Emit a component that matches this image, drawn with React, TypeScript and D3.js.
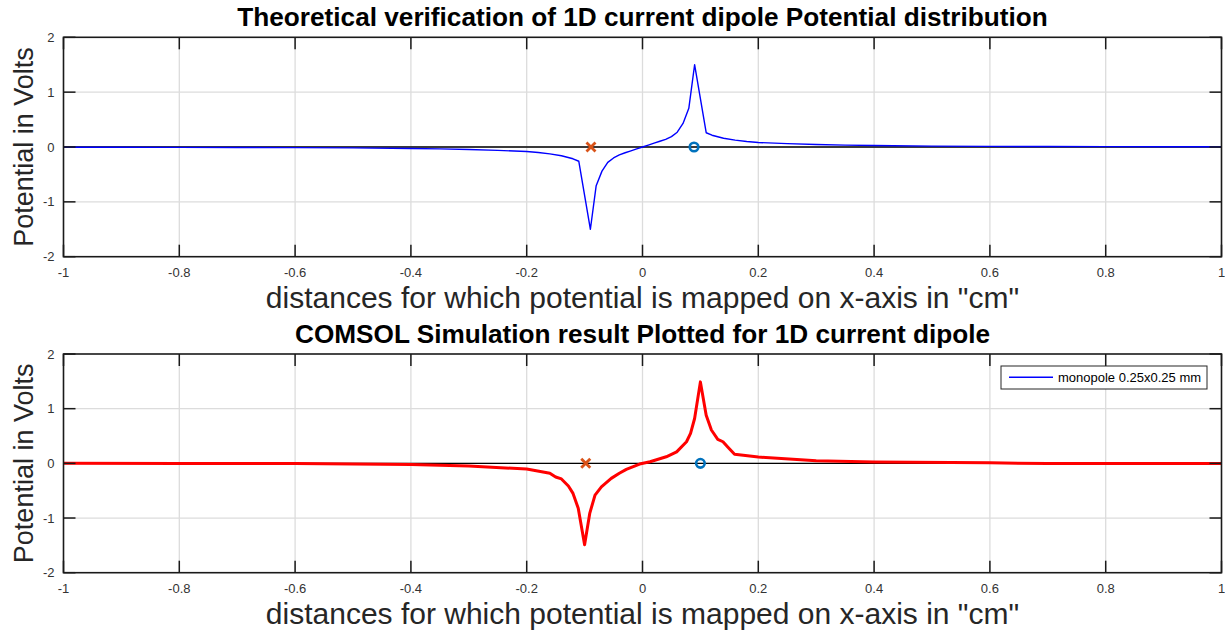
import React from 'react';
import * as d3 from 'd3';

// x positions in cm, potential in volts
const theoryX = [
  -1, -0.9, -0.8, -0.7, -0.6, -0.5, -0.4, -0.35, -0.3, -0.25, -0.2, -0.18, -0.16, -0.14, -0.12, -0.11,
  -0.09, -0.08, -0.07, -0.06, -0.05, -0.04, -0.03, -0.02, -0.01, 0, 0.01, 0.02, 0.03, 0.04, 0.05, 0.06,
  0.07, 0.08, 0.09, 0.11, 0.12, 0.14, 0.16, 0.18, 0.2, 0.25, 0.3, 0.35, 0.4, 0.5, 0.6, 0.7, 0.8, 0.9, 1,
];
const theoryY = [
  -0.004, -0.005, -0.006, -0.008, -0.011, -0.016, -0.026, -0.034, -0.046, -0.062, -0.082, -0.1, -0.125,
  -0.16, -0.215, -0.26, -1.5, -0.705, -0.44, -0.28, -0.2, -0.145, -0.105, -0.07, -0.035, 0, 0.035, 0.07,
  0.105, 0.14, 0.19, 0.27, 0.43, 0.705, 1.5, 0.26, 0.215, 0.16, 0.125, 0.1, 0.082, 0.062, 0.046, 0.034,
  0.026, 0.016, 0.011, 0.008, 0.006, 0.005, 0.004,
];

const comsolX = [
  -1, -0.8, -0.6, -0.5, -0.4, -0.3, -0.2, -0.16, -0.15, -0.14, -0.128, -0.12, -0.111, -0.1, -0.091,
  -0.082, -0.071, -0.054, -0.04, -0.028, -0.005, 0.013, 0.041, 0.059, 0.076, 0.083, 0.09, 0.1, 0.11,
  0.119, 0.13, 0.139, 0.148, 0.159, 0.2, 0.3, 0.4, 0.6, 0.7, 1,
];
const comsolY = [
  0, -0.002, -0.005, -0.01, -0.02, -0.05, -0.104, -0.18, -0.25, -0.285, -0.415, -0.55, -0.82, -1.49,
  -0.91, -0.58, -0.43, -0.275, -0.18, -0.11, -0.013, 0.03, 0.12, 0.21, 0.395, 0.55, 0.82, 1.49, 0.88,
  0.61, 0.44, 0.395, 0.29, 0.165, 0.115, 0.047, 0.024, 0.01, -0.005, -0.005,
];

// charge positions (sink "x", source "o")
const theorySink = -0.089;
const theorySource = 0.089;
const comsolSink = -0.098;
const comsolSource = 0.1;

const xTicks = [-1, -0.8, -0.6, -0.4, -0.2, 0, 0.2, 0.4, 0.6, 0.8, 1];
const xTickLabels = ['-1', '-0.8', '-0.6', '-0.4', '-0.2', '0', '0.2', '0.4', '0.6', '0.8', '1'];
const yTicks = [-2, -1, 0, 1, 2];
const yTickLabels = ['-2', '-1', '0', '1', '2'];

const FONT = '"Liberation Sans", Arial, Helvetica, sans-serif';
const W = 1225;
const H = 634;
const LEFT = 63.5;
const RIGHT = 1221.5;
const TICK = 12;

interface PanelProps {
  top: number;
  bottom: number;
  title: string;
  xs: number[];
  ys: number[];
  color: string;
  lineWidth: number;
  sink: number;
  source: number;
  legend?: string;
}

const Panel: React.FC<PanelProps> = ({ top, bottom, title, xs, ys, color, lineWidth, sink, source, legend }) => {
  const x = d3.scaleLinear().domain([-1, 1]).range([LEFT, RIGHT]);
  const y = d3.scaleLinear().domain([-2, 2]).range([bottom, top]);
  const line = d3
    .line<number>()
    .x((_, i) => x(xs[i]))
    .y((d) => y(d));
  const path = line(ys) || '';
  const midY = (top + bottom) / 2;

  return (
    <g>
      {/* grid */}
      {xTicks.slice(1, -1).map((t) => (
        <line key={'gx' + t} x1={x(t)} x2={x(t)} y1={top} y2={bottom} stroke="#dcdcdc" strokeWidth={1.3} />
      ))}
      {yTicks.slice(1, -1).map((t) => (
        <line key={'gy' + t} x1={LEFT} x2={RIGHT} y1={y(t)} y2={y(t)} stroke="#dcdcdc" strokeWidth={1.3} />
      ))}

      {/* zero line */}
      <line x1={x(-1)} x2={x(1)} y1={y(0)} y2={y(0)} stroke="#000" strokeWidth={1.3} />

      {/* data */}
      <path d={path} fill="none" stroke={color} strokeWidth={lineWidth} strokeLinejoin="round" />

      {/* markers */}
      <g stroke="#D95319" strokeWidth={2.8}>
        <line x1={x(sink) - 4.5} x2={x(sink) + 4.5} y1={y(0) - 4.5} y2={y(0) + 4.5} />
        <line x1={x(sink) - 4.5} x2={x(sink) + 4.5} y1={y(0) + 4.5} y2={y(0) - 4.5} />
      </g>
      <circle cx={x(source)} cy={y(0)} r={4.3} fill="none" stroke="#0072BD" strokeWidth={2.6} />

      {/* ticks */}
      {xTicks.map((t) => (
        <g key={'tx' + t}>
          <line x1={x(t)} x2={x(t)} y1={bottom} y2={bottom - TICK} stroke="#1a1a1a" strokeWidth={1.5} />
          <line x1={x(t)} x2={x(t)} y1={top} y2={top + TICK} stroke="#1a1a1a" strokeWidth={1.5} />
        </g>
      ))}
      {yTicks.map((t) => (
        <g key={'ty' + t}>
          <line x1={LEFT} x2={LEFT + TICK} y1={y(t)} y2={y(t)} stroke="#1a1a1a" strokeWidth={1.5} />
          <line x1={RIGHT} x2={RIGHT - TICK} y1={y(t)} y2={y(t)} stroke="#1a1a1a" strokeWidth={1.5} />
        </g>
      ))}
      <rect x={LEFT} y={top} width={RIGHT - LEFT} height={bottom - top} fill="none" stroke="#1a1a1a" strokeWidth={1.6} />

      {/* tick labels */}
      {xTicks.map((t, i) => (
        <text key={'lx' + t} x={x(t)} y={bottom + 20} textAnchor="middle" fontSize={13} fill="#333" fontFamily={FONT}>
          {xTickLabels[i]}
        </text>
      ))}
      {yTicks.map((t, i) => (
        <text key={'ly' + t} x={LEFT - 9} y={y(t) + 4.5} textAnchor="end" fontSize={13} fill="#333" fontFamily={FONT}>
          {yTickLabels[i]}
        </text>
      ))}

      {/* axis labels and title */}
      <text x={(LEFT + RIGHT) / 2} y={top - 11} textAnchor="middle" fontSize={26.2} fontWeight="bold" fill="#000" fontFamily={FONT}>
        {title}
      </text>
      <text x={(LEFT + RIGHT) / 2} y={bottom + 51} textAnchor="middle" fontSize={30} fill="#262626" fontFamily={FONT}>
        distances for which potential is mapped on x-axis in "cm"
      </text>
      <text
        transform={`translate(33,${midY}) rotate(-90)`}
        textAnchor="middle"
        fontSize={27}
        fill="#262626"
        fontFamily={FONT}
      >
        Potential in Volts
      </text>

      {legend && (
        <g>
          <rect x={1001} y={top + 12} width={206} height={23} fill="#fff" stroke="#262626" strokeWidth={1} />
          <line x1={1009} x2={1053} y1={top + 23.3} y2={top + 23.3} stroke="#0000FF" strokeWidth={1.5} />
          <text x={1058} y={top + 28} fontSize={13} fill="#000" fontFamily={FONT}>
            {legend}
          </text>
        </g>
      )}
    </g>
  );
};

export default function App() {
  return (
    <svg
      width={W}
      height={H}
      viewBox={`0 0 ${W} ${H}`}
      style={{ position: 'absolute', left: 0, top: 0, background: '#fff' }}
    >
      <rect width={W} height={H} fill="#fff" />
      <Panel
        top={37.3}
        bottom={256.7}
        title="Theoretical verification of 1D current dipole Potential distribution"
        xs={theoryX}
        ys={theoryY}
        color="#0000FF"
        lineWidth={1.4}
        sink={theorySink}
        source={theorySource}
      />
      <Panel
        top={354}
        bottom={572.7}
        title="COMSOL Simulation result Plotted for 1D current dipole"
        xs={comsolX}
        ys={comsolY}
        color="#FF0000"
        lineWidth={3}
        sink={comsolSink}
        source={comsolSource}
        legend="monopole 0.25x0.25 mm"
      />
    </svg>
  );
}
